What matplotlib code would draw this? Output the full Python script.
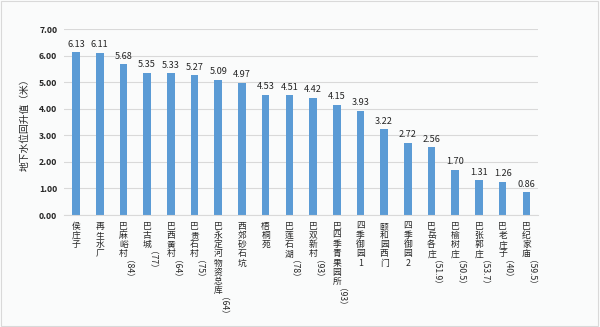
import matplotlib

matplotlib.use("Agg")
import matplotlib.pyplot as plt

plt.rcParams["font.family"] = ["Noto Sans CJK SC", "DejaVu Sans"]

# Groundwater level rise per monitoring site, highest first.
sites = [
    "侯庄子", "再生水厂", "巴麻峪村（84）", "巴古城（77）", "巴西黄村（64）",
    "巴贵石村（75）", "巴永定河物资总库（64）", "西郊砂石坑", "梧桐苑",
    "巴莲石湖（78）", "巴双新村（93）", "巴四季青果园所（93）", "四季御园1",
    "颐和园西门", "四季御园2", "巴岳各庄（51.9）", "巴榆树庄（50.5）",
    "巴张郭庄（53.7）", "巴老庄子（40）", "巴纪家庙（59.5）",
]
rise = [6.13, 6.11, 5.68, 5.35, 5.33, 5.27, 5.09, 4.97, 4.53, 4.51,
        4.42, 4.15, 3.93, 3.22, 2.72, 2.56, 1.70, 1.31, 1.26, 0.86]
y_ticks = [0, 1, 2, 3, 4, 5, 6, 7]
y_label = "地下水位回升值（米）"

BAR = "#5b9bd5"
GRID = "#d9d9d9"
INK = "#262626"
BG = "#fafbfb"

fig = plt.figure(figsize=(6, 3.27), dpi=100, facecolor=BG)
ax = fig.add_axes([0.107, 0.3425, 0.79, 0.5688])
ax.set_facecolor(BG)

positions = list(range(len(sites)))
ax.bar(positions, rise, width=0.32, color=BAR, zorder=2)
ax.set_xlim(-0.5, len(sites) - 0.5)
ax.set_ylim(0, 7)
ax.set_yticks(y_ticks)
ax.set_yticklabels([f"{t:.2f}" for t in y_ticks], fontsize=6.3,
                   fontweight="bold", color=INK)
ax.yaxis.grid(True, color=GRID, linewidth=0.8, zorder=0)
ax.set_xticks([])
for spine in ("top", "right", "left"):
    ax.spines[spine].set_visible(False)
ax.spines["bottom"].set_color(GRID)
ax.tick_params(axis="y", length=0, pad=5)
ax.set_ylabel(y_label, fontsize=7, color=INK, labelpad=7)

for pos, value in zip(positions, rise):
    ax.annotate(f"{value:.2f}", (pos, value), xytext=(0, 2.5),
                textcoords="offset points", ha="center", va="bottom",
                fontsize=6.6, color=INK)

# Category names run top to bottom: Han characters stay upright, the
# bracketed well depth is turned on its side.
step = 6.6
for pos, name in zip(positions, sites):
    head, sep, tail = name.partition("（")
    offset = 5.0
    for ch in head:
        ax.annotate(ch, (pos, 0), xytext=(0, -offset), textcoords="offset points",
                    ha="center", va="top", fontsize=6.3, color=INK,
                    annotation_clip=False)
        offset += step
    if sep:
        ax.annotate(sep + tail, (pos, 0), xytext=(0, -offset - 1),
                    textcoords="offset points", ha="center", va="top",
                    rotation=-90, fontsize=6.2, color=INK,
                    annotation_clip=False)

border = plt.Rectangle((0.002, 0.003), 0.995, 0.994, transform=fig.transFigure,
                       fill=False, edgecolor=GRID, linewidth=0.8)
fig.patches.append(border)

fig.savefig("out.png", dpi=100, facecolor=BG)
